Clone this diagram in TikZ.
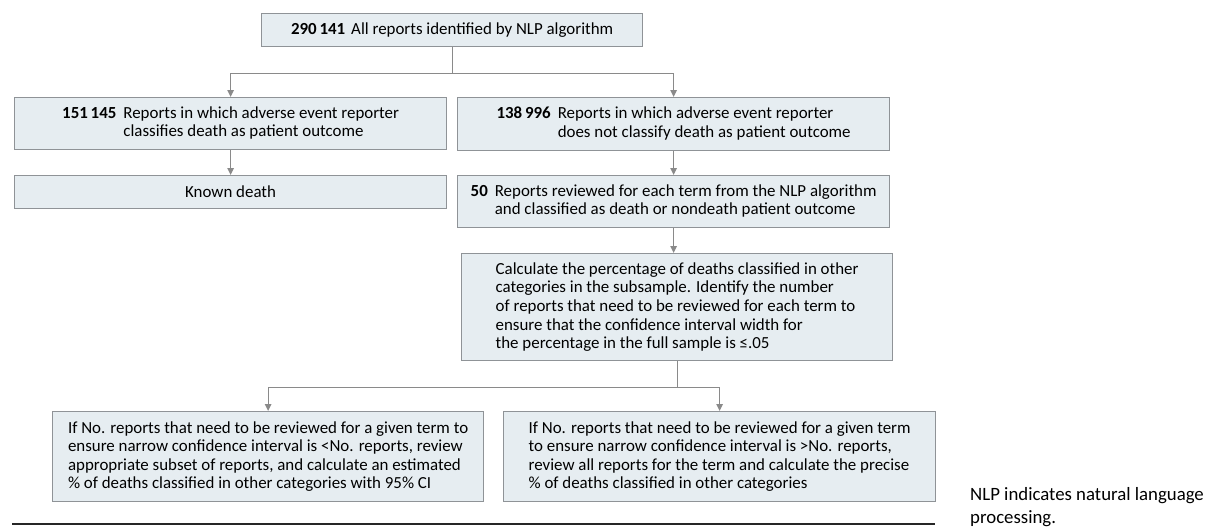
\documentclass[tikz,border=0pt]{standalone}
\usepackage{fontspec}
\setmainfont{Carlito}
\usetikzlibrary{arrows.meta}
\definecolor{boxfill}{HTML}{E6EDF1}
\definecolor{boxline}{HTML}{8F9397}
\definecolor{connc}{HTML}{8A8A8A}
\begin{document}
\begin{tikzpicture}[x=1pt,y=-1pt,
  box/.style={draw=boxline, line width=1.2pt, fill=boxfill, anchor=north west,
    inner sep=0pt, align=left, font=\fontsize{16.9}{18.6}\selectfont},
  conn/.style={draw=connc, line width=1.2pt},
  arr/.style={conn, -{Triangle[width=6.5pt,length=7pt]}},
  note/.style={anchor=north west, inner sep=0pt, align=left, font=\fontsize{18.8}{23}\selectfont}]
\useasboundingbox (0,0) rectangle (1206,527);

\node[box, minimum width=381pt, minimum height=33pt] (top) at (261,13)
  {\textbf{290\,141}\hspace{6pt}All reports identified by NLP algorithm};

\node[box, minimum width=432pt, minimum height=52pt] (L1) at (14,97)
  {\begin{tabular}{@{}l@{\hspace{7pt}}l@{}}\textbf{151\,145} & Reports in which adverse event reporter\\ & classifies death as patient outcome\end{tabular}};
\node[box, minimum width=432pt, minimum height=53pt] (R1) at (457,97)
  {\begin{tabular}{@{}l@{\hspace{7pt}}l@{}}\textbf{138\,996} & Reports in which adverse event reporter\\ & does not classify death as patient outcome\end{tabular}};

\node[box, minimum width=432pt, minimum height=33pt] (L2) at (14,175) {Known death};
\node[box, minimum width=432pt, minimum height=52pt] (R2) at (457,175)
  {\begin{tabular}{@{}l@{\hspace{7pt}}l@{}}\textbf{50} & Reports reviewed for each term from the NLP algorithm\\ & and classified as death or nondeath patient outcome\end{tabular}};

\node[box, minimum width=431pt, minimum height=107pt] (R3) at (461,253)
  {Calculate the percentage of deaths classified in other\\
   categories in the subsample. Identify the number\\
   of reports that need to be reviewed for each term to\\
   ensure that the confidence interval width for\\
   the percentage in the full sample is ≤.05};

\node[box, minimum width=431pt, minimum height=90pt] (B1) at (52,411)
  {If No. reports that need to be reviewed for a given term to\\
   ensure narrow confidence interval is <No. reports, review\\
   appropriate subset of reports, and calculate an estimated\\
   \% of deaths classified in other categories with 95\% CI};
\node[box, minimum width=432pt, minimum height=90pt] (B2) at (503,411)
  {If No. reports that need to be reviewed for a given term\\
   to ensure narrow confidence interval is >No. reports,\\
   review all reports for the term and calculate the precise\\
   \% of deaths classified in other categories};

% connectors
\draw[conn] (top.south) -- ++(0,26) coordinate (j1);
\draw[arr] (j1) -| (L1.north);
\draw[arr] (j1) -| (R1.north);
\draw[arr] (L1.south) -- (L2.north);
\draw[arr] (R1.south) -- (R1.south |- R2.north);
\draw[arr] (R2.south) -- (R2.south |- R3.north);
\draw[conn] (R3.south) -- ++(0,26) coordinate (j2);
\draw[arr] (j2) -| (B1.north);
\draw[arr] (j2) -| (B2.north);

% rule and footnote
\coordinate (ruleL) at (12,524);
\coordinate (ruleR) at (935,524);
\draw[line width=1.3pt, black!85] (ruleL) -- (ruleR);
\node[note] (fn) at (970,487) {NLP indicates natural language\\processing.};
\end{tikzpicture}
\end{document}
